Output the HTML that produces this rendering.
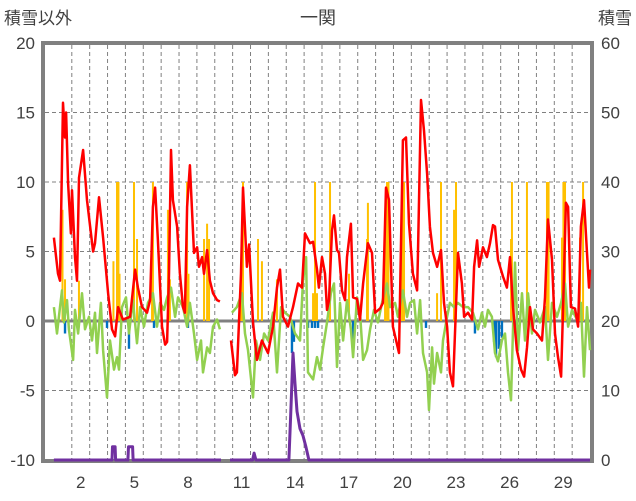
<!DOCTYPE html>
<html><head><meta charset="utf-8">
<style>
html,body{margin:0;padding:0;background:#fff;}
svg{display:block;font-family:"Liberation Sans","Noto Sans CJK JP",sans-serif;}
</style></head>
<body>
<svg id="chart" width="636" height="501" viewBox="0 0 636 501">
<text x="318" y="24" text-anchor="middle" font-size="18" fill="#404040">一関</text>
<text x="4" y="24" font-size="17" fill="#404040">積雪以外</text>
<text x="632" y="24" text-anchor="end" font-size="17" fill="#404040">積雪</text>
<g id="grid"></g>
<g id="bars"></g>
<g id="frame"></g>
<g id="lines"></g>
<g id="ticks"></g>
</svg>
<script>
// ---- data ----
const leftTicks = [20, 15, 10, 5, 0, -5, -10];
const rightTicks = [60, 50, 40, 30, 20, 10, 0];
const dayLabels = [2, 5, 8, 11, 14, 17, 20, 23, 26, 29];

const redT = [0.50,0.73,0.84,1.01,1.12,1.18,1.29,1.45,1.51,1.68,1.79,1.90,2.13,2.35,2.69,2.80,3.02,3.25,3.53,3.75,3.92,4.09,4.36,4.76,5.04,5.20,5.43,5.71,5.88,6.04,6.16,6.32,6.55,6.72,6.83,6.94,7.05,7.16,7.39,7.55,7.72,7.83,7.95,8.11,8.34,8.51,8.62,8.79,8.90,9.07,9.23,9.40,9.63,9.79,null,10.41,10.63,10.74,10.97,11.08,11.30,11.42,11.64,11.86,12.14,12.48,12.76,12.98,13.15,13.32,13.60,13.88,14.16,14.38,14.55,14.83,15.00,15.22,15.33,15.50,15.67,15.78,15.89,16.06,16.17,16.34,16.45,16.62,16.79,16.90,17.12,17.24,17.46,17.63,17.80,18.07,18.30,18.47,18.75,18.91,19.08,19.25,19.47,19.81,20.03,20.20,20.37,20.59,20.82,20.87,21.04,21.21,21.38,21.54,21.71,21.94,22.16,22.33,22.50,22.66,22.83,23.11,23.33,23.45,23.67,23.90,24.01,24.18,24.29,24.51,24.73,24.90,25.07,25.18,25.35,25.63,25.85,26.02,26.19,26.41,26.64,26.81,26.97,27.14,27.31,27.53,27.81,27.98,28.15,28.37,28.54,28.71,28.88,28.99,29.15,29.27,29.43,29.66,29.83,29.99,30.16,30.33,30.44,30.50];
const redV = [6.0,3.4,2.9,15.7,13.2,15.0,9.9,6.3,9.4,4.6,2.9,10.3,12.3,8.7,5.0,5.6,8.9,6.0,2.0,-0.6,-1.1,1.0,0.1,0.3,3.7,2.4,1.0,0.6,1.5,8.2,9.6,5.8,-0.4,-1.7,-1.5,3.4,12.3,8.7,6.8,3.4,1.0,0.6,8.2,11.2,4.9,5.3,3.9,4.6,3.4,5.1,2.9,2.0,1.5,1.4,null,-1.4,-3.9,-3.7,3.4,9.6,3.9,5.5,-0.1,-2.8,-1.4,-2.3,-0.4,2.4,3.7,0.3,-0.4,1.0,2.7,2.4,6.3,5.6,5.7,3.7,2.4,4.6,3.4,0.8,1.5,6.5,7.6,5.1,4.9,2.2,1.5,4.6,7.0,1.7,1.6,0.1,2.7,5.6,4.9,0.6,0.9,1.3,9.6,8.7,-0.4,-2.3,13.0,13.2,7.0,3.4,2.2,4.6,15.9,13.7,10.6,6.8,4.9,3.9,5.1,1.3,-0.4,-3.7,-4.7,4.9,2.7,0.3,0.6,0.1,3.9,5.8,3.9,5.3,4.6,5.6,6.9,6.8,4.4,3.2,2.4,4.6,1.0,-2.1,-3.5,-4.0,-1.9,1.0,-0.6,-0.9,-1.4,1.7,7.3,4.4,-0.9,-2.6,-4.0,1.0,8.5,8.2,1.0,0.9,-0.4,6.8,8.7,4.9,2.4,3.7];

const greenT = [0.50,0.67,0.84,0.95,1.06,1.23,1.34,1.57,1.68,1.85,2.07,2.24,2.46,2.63,2.80,2.91,3.13,3.25,3.47,3.64,3.86,4.03,4.14,4.31,4.53,4.70,4.92,5.15,5.32,5.54,5.76,6.04,6.27,6.44,6.66,6.83,7.05,7.28,7.44,7.72,7.95,8.11,8.34,8.51,8.73,8.84,9.07,9.23,9.40,9.63,9.79,null,10.46,10.74,11.02,11.19,11.36,11.64,11.81,12.03,12.26,12.48,12.76,12.98,13.21,13.43,13.71,13.99,14.27,14.44,14.61,14.72,15.00,15.22,15.39,15.56,15.78,16.00,16.17,16.34,16.51,16.68,16.90,17.12,17.24,17.46,17.63,17.80,18.02,18.19,18.41,18.63,18.86,19.14,19.31,19.59,19.75,20.03,20.26,20.43,20.65,20.82,20.99,21.15,21.38,21.49,21.66,21.77,21.94,22.16,22.27,22.50,22.66,22.89,23.11,23.39,23.67,23.95,24.23,24.45,24.62,24.79,25.01,25.18,25.35,25.57,25.74,25.91,26.08,26.19,26.30,26.47,26.69,26.86,27.03,27.25,27.42,27.70,27.98,28.15,28.37,28.65,28.88,29.10,29.27,29.49,29.77,29.99,30.16,30.33,30.50];
const greenV = [1.0,-0.9,1.0,2.2,-0.1,1.5,-0.6,-2.8,0.8,-0.9,2.0,-0.6,0.3,-1.4,0.6,-2.3,1.3,-2.1,-5.5,-1.4,-3.5,-2.6,-3.5,1.0,1.7,-0.9,1.5,-1.6,1.0,-0.4,1.3,2.0,-0.4,1.3,0.8,1.7,2.4,0.3,1.7,1.0,-0.4,1.3,-0.9,-2.8,-1.4,-3.7,-1.9,-2.3,-0.4,0.1,-0.6,null,0.6,1.0,2.0,-0.9,-2.1,-5.5,-1.4,-2.8,-0.9,-1.4,0.6,-3.7,1.0,0.6,0.3,-0.9,-1.4,2.9,4.6,-3.7,-4.2,-2.6,-3.5,-1.9,-0.1,2.0,2.7,-3.3,1.3,-1.4,1.5,-0.6,-2.6,1.7,0.6,-2.8,-2.1,-0.6,0.8,-0.1,1.3,2.7,1.0,1.3,0.3,2.2,0.3,1.3,1.5,-0.9,1.5,-2.3,-3.7,-6.4,-1.9,-4.5,-2.3,-3.7,-1.4,0.3,1.3,1.0,1.3,1.0,1.0,0.6,-0.6,0.6,-0.4,0.8,0.3,-2.3,-2.9,-1.4,-0.9,-3.7,-5.7,-0.6,4.2,-2.1,2.0,-1.4,2.0,-0.9,0.8,-0.1,1.0,-2.8,1.3,0.3,1.3,2.7,-0.4,0.8,0.1,1.3,-4.0,1.0,-2.1];

const orangeT = [0.98,1.12,1.90,3.83,4.03,4.11,4.17,4.98,5.15,5.99,6.04,6.88,6.99,7.95,8.03,8.90,9.07,9.18,10.97,11.08,11.92,12.14,12.98,15.00,15.11,15.22,15.95,17.01,18.02,18.07,19.03,19.14,19.22,19.98,20.09,21.94,22.16,22.89,23.00,26.08,26.13,26.97,27.03,28.09,28.18,28.93,29.01,29.10,29.94,30.11];
const orangeV = [8,3,2.9,4.3,10,10,3.4,10,5.9,2.9,10,8,3,10,3.4,5.9,7,5.9,3,10,5.9,4.3,3,2,10,2,10,3.4,5.9,8.5,6.8,10,10,8.5,10,2,10,8,10,5.9,10,10,2,10,10,6,10,10,6,10];

const blueT = [1.12,3.47,4.70,6.10,8.00,11.64,13.82,13.93,14.72,14.94,15.11,15.28,17.24,21.32,24.06,25.13,25.24,25.40,25.57,26.36];
const blueV = [-0.9,-0.5,-2,-0.5,-0.5,-0.5,-2.3,-1.5,-0.5,-0.5,-0.5,-0.5,-1.9,-0.5,-0.9,-1.5,-2.6,-2,-1.2,-0.5];

const snowT = [0.50,3.75,3.78,3.92,3.95,4.64,4.67,4.90,4.93,9.85,null,10.35,11.62,11.70,11.80,13.65,13.77,13.88,13.99,14.10,14.27,14.44,14.60,14.77,30.50];
const snowV = [0,0,1.9,1.9,0,0,1.9,1.9,0,0,null,0,0,1,0,0,8,15.4,11,7,4.5,3.5,1.9,0,0];

// ---- axes ----
const X0 = 45, DAYW = 17.87;
const yTop = 43, yBot = 460;
function x(t){ return X0 + t*DAYW; }
function yL(v){ return yBot - (v - (-10)) / 30 * (yBot - yTop); }
function yR(v){ return yBot - v / 60 * (yBot - yTop); }

const NS = "http://www.w3.org/2000/svg";
function mk(tag, attrs, parent){ const e=document.createElementNS(NS,tag); for(const k in attrs) e.setAttribute(k,attrs[k]); parent.appendChild(e); return e; }
const grid = document.getElementById('grid'), bars=document.getElementById('bars'), lines=document.getElementById('lines'), frame=document.getElementById('frame'), ticks=document.getElementById('ticks');

leftTicks.forEach(v=>{
  if(v===20||v===-10||v===0) return;
  const l = mk('line',{x1:45,x2:590,y1:yL(v),y2:yL(v),stroke:'#808080','stroke-width':1,'stroke-dasharray':'4,3'},grid);
  
  
});
for(let d=1; d<=29; d++){
  const l = mk('line',{x1:x(d+0.5),x2:x(d+0.5),y1:45,y2:459,stroke:'#808080','stroke-width':1,'stroke-dasharray':'4,3'},grid);
  
  
}

orangeT.forEach((t,i)=>{
  const y = yL(orangeV[i]);
  const r = mk('rect',{x:x(t)-1,y:y,width:2,height:yL(0)-y,fill:'#FFC000'},bars);
  
  
});
blueT.forEach((t,i)=>{
  const y = yL(blueV[i]);
  const r = mk('rect',{x:x(t)-1.2,y:yL(0),width:2.4,height:y-yL(0),fill:'#0070C0'},bars);
  
  
});

const z = mk('line',{x1:45,x2:590,y1:yL(0),y2:yL(0),stroke:'#808080','stroke-width':3},grid);



function pathOf(T,V,yf){
  let d='', pen=false;
  T.forEach((t,i)=>{
    if(t===null||V[i]===null){ pen=false; return; }
    d += (pen?'L':'M') + x(t).toFixed(1) + ' ' + yf(V[i]).toFixed(1) + ' ';
    pen=true;
  });
  return d;
}
const g = mk('path',{d:pathOf(greenT,greenV,yL),fill:'none',stroke:'#92D050','stroke-width':2.5,'stroke-linejoin':'round'},lines);


const r = mk('path',{d:pathOf(redT,redV,yL),fill:'none',stroke:'#FF0000','stroke-width':2.5,'stroke-linejoin':'round'},lines);


const p = mk('path',{d:pathOf(snowT,snowV,yR),fill:'none',stroke:'#7030A0','stroke-width':3,'stroke-linejoin':'round'},lines);



const f = mk('rect',{x:43,y:43,width:549,height:418,fill:'none',stroke:'#808080','stroke-width':4},frame);



leftTicks.forEach(v=>{
  const t = mk('text',{x:35,y:yL(v)+6,'text-anchor':'end','font-size':17,fill:'#404040'},ticks);
  t.textContent = v;
  
  
});
rightTicks.forEach(v=>{
  const t = mk('text',{x:601,y:yR(v)+6,'font-size':17,fill:'#404040'},ticks);
  t.textContent = v;
  
  
});
dayLabels.forEach(d=>{
  const t = mk('text',{x:x(d),y:488,'text-anchor':'middle','font-size':17,fill:'#404040'},ticks);
  t.textContent = d;
  
  
});
</script>
</body></html>
